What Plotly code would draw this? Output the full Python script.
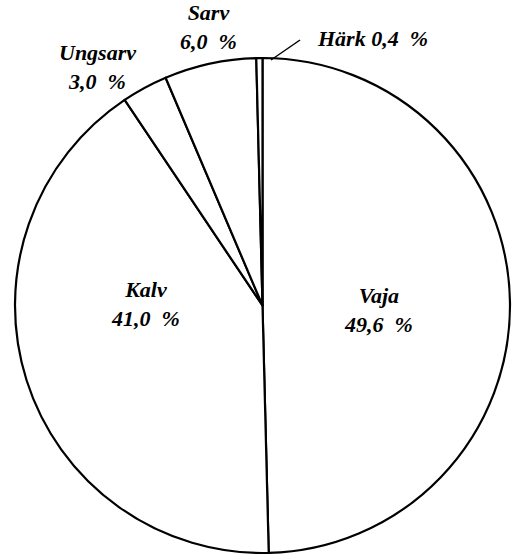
import plotly.graph_objects as go

labels = ["Vaja", "Kalv", "Ungsarv", "Sarv", "Härk"]
values = [49.6, 41.0, 3.0, 6.0, 0.4]

W, H = 517, 556
NB = "\u00a0"

def fmt(v):
    return f"{v:.1f}".replace(".", ",") + NB + NB + "%"

fig = go.Figure(go.Pie(
    labels=labels,
    values=values,
    sort=False,
    direction="clockwise",
    rotation=0,
    textinfo="none",
    hoverinfo="label+percent",
    marker=dict(colors=["white"] * len(values), line=dict(color="black", width=2.2)),
    domain=dict(x=[15 / W, 510 / W], y=[1 - 553 / H, 1 - 58 / H]),
    showlegend=False,
))

# label placement (pixel positions of text centres)
label_pos = {
    "Vaja": (378, 310),
    "Kalv": (145, 304),
    "Ungsarv": (97, 67),
    "Sarv": (208, 27),
}
font = dict(family="Liberation Serif", size=22, color="black", style="italic", weight="bold")
for lab, val in zip(labels, values):
    if lab in label_pos:
        px, py = label_pos[lab]
        fig.add_annotation(x=px / W, y=1 - py / H, xref="paper", yref="paper",
                           text=f"{lab}<br>{fmt(val)}", showarrow=False,
                           font=font, align="center", xanchor="center", yanchor="middle")
    else:
        fig.add_annotation(x=315 / W, y=1 - 38 / H, xref="paper", yref="paper",
                           text=f"{lab}{NB}{fmt(val)}", showarrow=False,
                           font=font, xanchor="left", yanchor="middle")
        fig.add_shape(type="line", xref="paper", yref="paper",
                      x0=271 / W, y0=1 - 60 / H, x1=300 / W, y1=1 - 40 / H,
                      line=dict(color="black", width=1.5))

fig.update_layout(
    width=W, height=H,
    margin=dict(l=0, r=0, t=0, b=0),
    paper_bgcolor="white", plot_bgcolor="white",
)

fig.write_html("out.html", config={"displayModeBar": False},
               post_script="document.body.style.margin='0';")
